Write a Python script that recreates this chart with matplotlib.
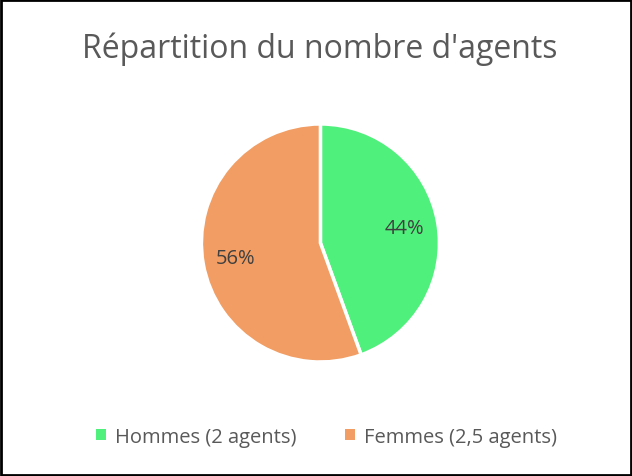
import matplotlib
matplotlib.use("Agg")
import matplotlib.pyplot as plt
from matplotlib.patches import Rectangle

categories = ["Hommes (2 agents)", "Femmes (2,5 agents)"]
values = [2, 2.5]
colors = ["#4ff07b", "#f19d63"]
title = "Répartition du nombre d'agents"

plt.rcParams['font.family'] = ['Open Sans', 'DejaVu Sans']
text_color = "#595959"

fig = plt.figure(figsize=(6.32, 4.77), dpi=100)
fig.patch.set_facecolor("white")

w = 0.3766
h = 0.4990
ax = fig.add_axes([0.507 - w / 2, 0.4885 - h / 2, w, h])
wedges, texts, autotexts = ax.pie(
    values, colors=colors, startangle=90, counterclock=False,
    autopct=lambda p: f"{p:.0f}%", pctdistance=0.72,
    wedgeprops=dict(edgecolor="white", linewidth=2.5),
    textprops=dict(color="#404040", fontsize=14.5),
)
ax.set_xlim(-1, 1)
ax.set_ylim(-1, 1)
ax.set_aspect("equal")

fig.text(0.506, 0.897, title, ha="center", va="center", fontsize=23, color=text_color)

leg = fig.legend(wedges, categories, loc="center", bbox_to_anchor=(0.517, 0.082),
                 ncol=2, frameon=False, fontsize=14.5, handlelength=0.5, handleheight=0.5,
                 handletextpad=0.45, columnspacing=2.4, labelcolor=text_color)
for hd in leg.legend_handles:
    hd.set_edgecolor("none")

fig.add_artist(Rectangle((0.002, 0.003), 0.996, 0.994, transform=fig.transFigure,
                         fill=False, edgecolor="black", linewidth=2))

fig.savefig("out.png", dpi=100)
